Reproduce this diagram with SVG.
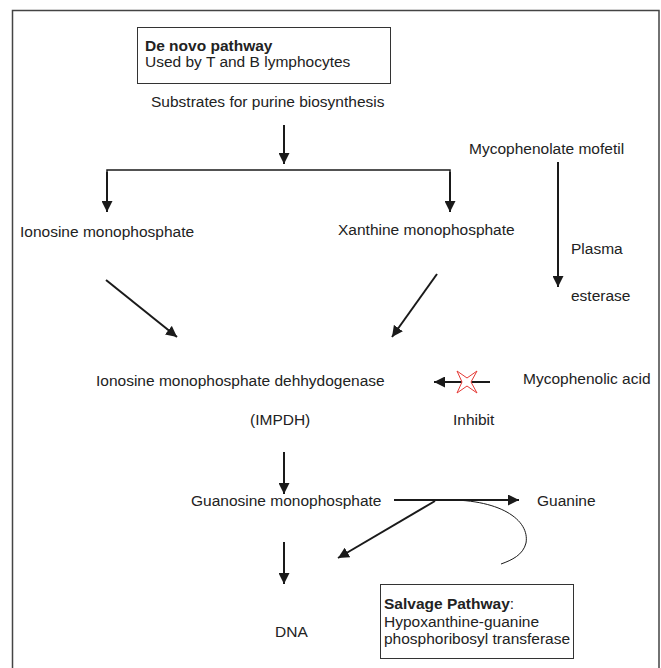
<svg xmlns="http://www.w3.org/2000/svg" width="661" height="668" viewBox="0 0 661 668">
<defs>
<marker id="ah" viewBox="0 0 10 10" refX="10" refY="5" markerWidth="5.5" markerHeight="5.5" orient="auto" markerUnits="strokeWidth">
<path d="M0,0 L10,5 L0,10 z" fill="#1a1a1a"/>
</marker>
<style>
text{font-family:"Liberation Sans",Arial,sans-serif;font-size:15.5px;fill:#222}
.b{font-weight:bold}
.c{stroke:#1a1a1a;stroke-width:2;fill:none}
.a{marker-end:url(#ah)}
.box{fill:#fff;stroke:#333;stroke-width:1}
</style>
</defs>
<rect width="661" height="668" fill="#fff"/>
<path d="M12.5 668 V10.5 H659 V668" fill="none" stroke="#444" stroke-width="1.5"/>
<g id="denovo">
<rect class="box" x="137.5" y="27.5" width="253" height="56"/>
<text class="b" x="145" y="51">De novo pathway</text>
<text x="145" y="67">Used by T and B lymphocytes</text>
</g>
<g id="substrates"><text x="151" y="107">Substrates for purine biosynthesis</text></g>
<g id="imp"><text x="20" y="237">Ionosine monophosphate</text></g>
<g id="xmp"><text x="338" y="235">Xanthine monophosphate</text></g>
<g id="mmf"><text x="469" y="154">Mycophenolate mofetil</text></g>
<g id="esterase"><text x="571" y="254">Plasma</text><text x="571" y="301">esterase</text></g>
<g id="impdh"><text x="96" y="386">Ionosine monophosphate dehhydogenase</text><text x="250" y="425">(IMPDH)</text></g>
<g id="mpa"><text x="523" y="384">Mycophenolic acid</text></g>
<g id="inhibit"><text x="453" y="425">Inhibit</text></g>
<g id="gmp"><text x="191" y="506">Guanosine monophosphate</text></g>
<g id="guanine"><text x="537" y="506">Guanine</text></g>
<g id="dna"><text x="275" y="637">DNA</text></g>
<g id="salvage">
<rect class="box" x="380.5" y="584.5" width="193" height="74"/>
<text x="384" y="609"><tspan class="b">Salvage Pathway</tspan>:</text>
<text x="384" y="627">Hypoxanthine-guanine</text>
<text x="384" y="644">phosphoribosyl transferase</text>
</g>
<g id="connectors">
<line class="c a" x1="284" y1="125" x2="284" y2="164"/>
<polyline class="c" points="107,211 107,170 450,170 450,211" style="stroke-width:1.5"/>
<line class="c a" x1="107" y1="172" x2="107" y2="212"/>
<line class="c a" x1="450" y1="172" x2="450" y2="212"/>
<line class="c a" x1="558" y1="162" x2="558" y2="287"/>
<line class="c a" x1="106" y1="280" x2="177" y2="337"/>
<line class="c a" x1="437" y1="274" x2="392" y2="337"/>
<line class="c a" x1="490" y1="382" x2="434" y2="382"/>
<path d="M457 371 L467 378 L477 371 L471 382 L477 393 L467 386 L457 393 L462 382 Z" fill="#fff" stroke="#e53935" stroke-width="1"/>
<line class="c a" x1="284" y1="452" x2="284" y2="494"/>
<line class="c a" x1="394" y1="500" x2="519" y2="500"/>
<line class="c a" x1="435" y1="501" x2="338" y2="558"/>
<path d="M440 500 C500 498 530 520 526 543 C523 555 512 560 501 564" fill="none" stroke="#1a1a1a" stroke-width="1"/>
<line class="c a" x1="284" y1="542" x2="284" y2="584"/>
</g>
</svg>
